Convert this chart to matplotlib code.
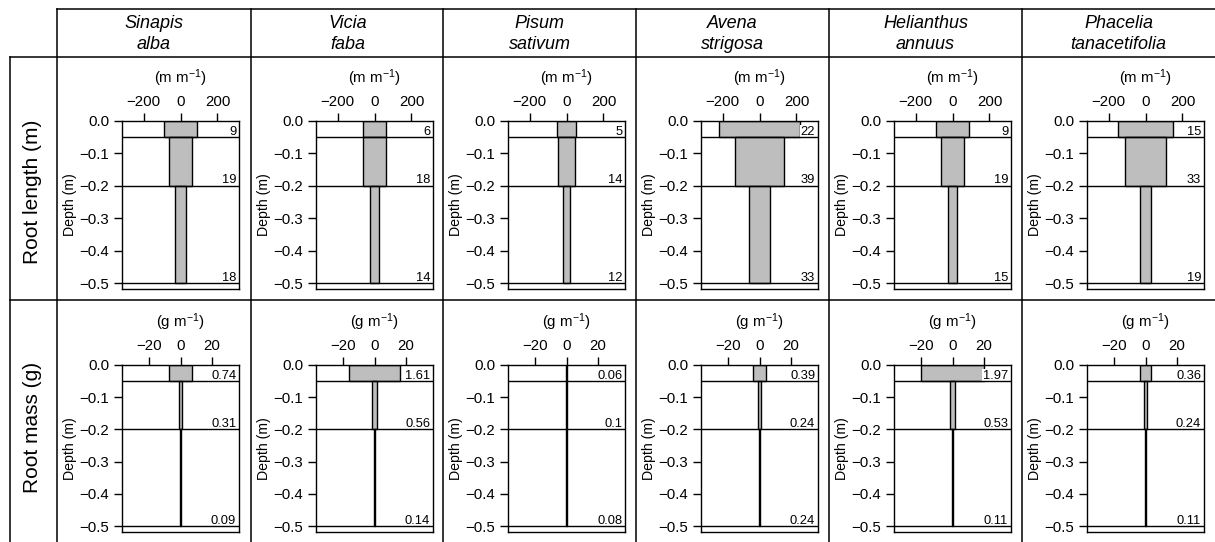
import matplotlib
matplotlib.use("Agg")
import matplotlib.pyplot as plt
from matplotlib.transforms import blended_transform_factory

plt.rcParams["font.family"] = ["Liberation Sans", "DejaVu Sans"]
plt.rcParams["mathtext.fontset"] = "custom"
plt.rcParams["mathtext.rm"] = "Liberation Sans"
plt.rcParams["mathtext.default"] = "regular"

# data
species = ["Sinapis\nalba", "Vicia\nfaba", "Pisum\nsativum",
           "Avena\nstrigosa", "Helianthus\nannuus", "Phacelia\ntanacetifolia"]
row_labels = ["Root length (m)", "Root mass (g)"]
unit_labels = [r"(m m$^{-1}$)", r"(g m$^{-1}$)"]

layer_tops = [0.0, -0.05, -0.2]
layer_bottoms = [-0.05, -0.2, -0.5]

# values per layer (0-5 cm, 5-20 cm, 20-50 cm)
root_length = [[9, 19, 18], [6, 18, 14], [5, 14, 12],
               [22, 39, 33], [9, 19, 15], [15, 33, 19]]
root_mass = [[0.74, 0.31, 0.09], [1.61, 0.56, 0.14], [0.06, 0.1, 0.08],
             [0.39, 0.24, 0.24], [1.97, 0.53, 0.11], [0.36, 0.24, 0.11]]

length_ticks = [-200, 0, 200]
mass_ticks = [-20, 0, 20]
depth_ticks = [0.0, -0.1, -0.2, -0.3, -0.4, -0.5]

rows = [(root_length, length_ticks, 318), (root_mass, mass_ticks, 37.2)]

# layout in pixels
W, H = 1215, 542
col_x = [57, 251, 443, 636, 829, 1022]
col_w = 193
row_axes_px = [(121, 289), (365, 532)]
row_label_y = [192, 427]

fig = plt.figure(figsize=(W / 100, H / 100), dpi=100)

# table grid
bg = fig.add_axes([0, 0, 1, 1])
bg.set_xlim(0, W)
bg.set_ylim(H, 0)
bg.axis("off")
lw_grid = 1.1
bg.plot([57, W], [9, 9], color="black", lw=lw_grid)
bg.plot([10, W], [57, 57], color="black", lw=lw_grid)
bg.plot([10, W], [300, 300], color="black", lw=lw_grid)
bg.plot([10, 10], [57, H], color="black", lw=lw_grid)
for x in col_x:
    bg.plot([x, x], [9, H], color="black", lw=lw_grid)

for name, x in zip(species, col_x):
    bg.text(x + col_w / 2, 34, name, ha="center", va="center", fontsize=13,
            style="italic", linespacing=1.25)

for label, y in zip(row_labels, row_label_y):
    bg.text(33, y, label, ha="center", va="center", rotation=90, fontsize=15)

bar_color = "#bebebe"

for r, (values, ticks, xmax) in enumerate(rows):
    top, bottom = row_axes_px[r]
    for c, x in enumerate(col_x):
        ax = fig.add_axes([(x + 64.7) / W, 1 - bottom / H, 117.6 / W, (bottom - top) / H])
        vals = values[c]
        for v, t, b in zip(vals, layer_tops, layer_bottoms):
            thick = t - b
            w = v / thick
            ax.barh((t + b) / 2, w, height=thick, left=-w / 2, color=bar_color,
                    edgecolor="black", linewidth=1.0, zorder=2)
        for b in layer_bottoms:
            ax.axhline(b, color="black", lw=1.0, zorder=3)
        trans = blended_transform_factory(ax.transAxes, ax.transData)
        for v, b in zip(vals, layer_bottoms):
            ax.annotate(f"{v:g}", xy=(1, b), xycoords=trans, xytext=(-2.2, 1.8),
                        textcoords="offset points", ha="right", va="baseline",
                        fontsize=9.3, zorder=2.4,
                        bbox=dict(facecolor="white", edgecolor="none", pad=0.6))
        ax.set_xlim(-xmax, xmax)
        ax.set_ylim(-0.518, 0)
        ax.xaxis.tick_top()
        ax.xaxis.set_label_position("top")
        ax.set_xticks(ticks)
        ax.set_yticks(depth_ticks)
        ax.tick_params(direction="out", length=6, width=1, labelsize=10.8, pad=3)
        ax.set_xlabel(unit_labels[r], fontsize=10.8, labelpad=8)
        ax.set_ylabel("Depth (m)", fontsize=10.2, labelpad=2)
        for s in ax.spines.values():
            s.set_linewidth(1.0)

fig.savefig("out.png", dpi=100)
